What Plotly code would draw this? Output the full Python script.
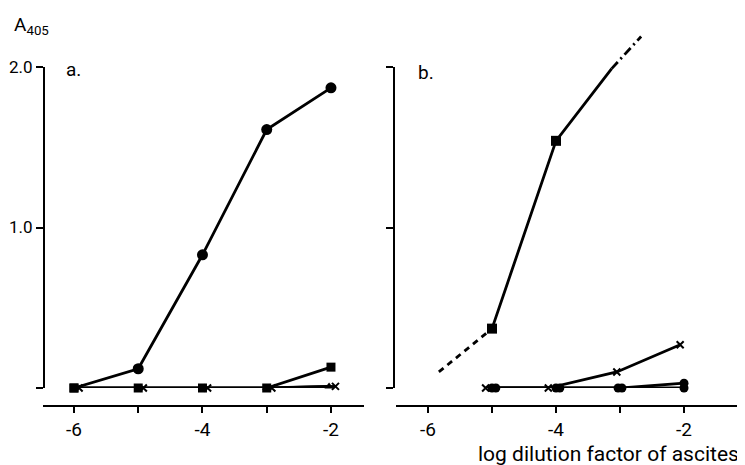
import plotly.graph_objects as go

W, H = 745, 465
OFF = 8  # page body margin in the browser
FW, FH = W - OFF, H - OFF
FONT = "Roboto, DejaVu Sans, sans-serif"

# ---- data (log dilution factor, A405) ----
# Panel a
a_x = [-6, -5, -4, -3, -2]
a_circle_y = [0.0, 0.12, 0.83, 1.61, 1.87]
a_circle_sym = ["square", "circle", "circle", "circle", "circle"]
a_square_y = [0.0, 0.0, 0.0, 0.0, 0.13]
a_tri_x = [-3, -2.03]
a_tri_y = [0.0, 0.01]
a_cross_x = [-5.92, -4.92, -3.92, -2.92, -1.93]
a_cross_y = [0.0, 0.0, 0.0, 0.0, 0.01]

# Panel b
b_square_x = [-5, -4, -3.13]
b_square_y = [0.37, 1.54, 1.99]
b_square_sym = ["square", "square", "circle"]
b_dash_x = [-5.83, -5]
b_dash_y = [0.10, 0.37]
b_dashdot_x = [-3.13, -2.67]
b_dashdot_y = [1.99, 2.19]
b_cross_x = [-5.1, -4.12, -3.05, -2.06]
b_cross_y = [0.0, 0.0, 0.10, 0.27]
b_circle_x = [-5.0, -4.0, -2.97, -2.0]
b_circle_y = [0.0, 0.0, 0.0, 0.03]
b_circle2_x = [-4.94, -3.94, -3.03, -2.0]
b_circle2_y = [0.0, 0.0, 0.0, 0.0]

x_ticks = [-6, -5, -4, -3, -2]
x_ticktext = ["-6", "", "-4", "", "-2"]
y_ticks = [0, 1, 2]
y_ticktext_a = ["", "1.0", "2.0"]
y_ticktext_b = ["", "", ""]

LW = 2.8
K = "black"

fig = go.Figure()

def line(x, y, xa, ya, dash="solid", mode="lines", marker=None):
    m = dict(color=K, opacity=1, line=dict(width=0))
    if marker:
        m.update(marker)
    fig.add_trace(go.Scatter(x=x, y=y, xaxis=xa, yaxis=ya, mode=mode,
                             line=dict(color=K, width=LW, dash=dash),
                             marker=m, cliponaxis=False,
                             showlegend=False, hoverinfo="skip"))

# panel a
line(a_cross_x, a_cross_y, "x", "y", mode="lines+markers",
     marker=dict(symbol="x-thin", size=7, line=dict(color=K, width=2)))
line(a_tri_x, a_tri_y, "x", "y", mode="lines+markers",
     marker=dict(symbol="triangle-up", size=8))
line(a_x, a_square_y, "x", "y", mode="lines+markers",
     marker=dict(symbol="square", size=9))
line(a_x, a_circle_y, "x", "y", mode="lines+markers",
     marker=dict(symbol=a_circle_sym, size=[9, 11, 11, 11, 11]))

# panel b
line(b_cross_x, b_cross_y, "x2", "y2", mode="lines+markers",
     marker=dict(symbol="x-thin", size=7, line=dict(color=K, width=2)))
line(b_circle2_x, b_circle2_y, "x2", "y2", mode="lines+markers",
     marker=dict(symbol="circle", size=9))
line(b_circle_x, b_circle_y, "x2", "y2", mode="lines+markers",
     marker=dict(symbol="circle", size=9))
line(b_dash_x, b_dash_y, "x2", "y2", dash="6px,5px")
line(b_square_x, b_square_y, "x2", "y2", mode="lines+markers",
     marker=dict(symbol=b_square_sym, size=[10, 10, 0]))
line(b_dashdot_x, b_dashdot_y, "x2", "y3", dash="9px,4px,2px,4px")

def px(x):
    return (x - OFF) / FW

def py(y):
    return 1 - (y - OFF) / FH

axis_common = dict(showgrid=False, zeroline=False, showline=True, linecolor=K,
                   linewidth=2, ticks="outside", tickcolor=K, tickwidth=2,
                   automargin=False, fixedrange=True)
xfont = dict(family=FONT, size=19, color=K)
yfont = dict(family=FONT, size=17, color=K)

fig.update_layout(
    template="none",
    width=FW, height=FH, margin=dict(l=0, r=0, t=0, b=0, pad=0),
    paper_bgcolor="white", plot_bgcolor="rgba(0,0,0,0)",
    xaxis=dict(domain=[px(43), px(364)], range=[-6.482, -1.486], anchor="free",
               position=py(406), tickvals=x_ticks, ticktext=x_ticktext, ticklen=6,
               tickfont=xfont, **axis_common),
    yaxis=dict(domain=[py(388), py(67)], range=[0, 2], anchor="free",
               position=px(44), tickvals=y_ticks, ticktext=y_ticktext_a, ticklen=7,
               tickfont=yfont, **axis_common),
    xaxis2=dict(domain=[px(396), px(745)], range=[-6.5, -1.047], anchor="free",
                position=py(406), tickvals=x_ticks, ticktext=x_ticktext, ticklen=6,
                tickfont=xfont, **axis_common),
    yaxis2=dict(domain=[py(388), py(67)], range=[0, 2], anchor="free",
                position=px(394), tickvals=y_ticks, ticktext=y_ticktext_b, ticklen=7,
                tickfont=yfont, **axis_common),
    yaxis3=dict(domain=[py(388), py(28)], range=[0, (388 - 28) / 160.5],
                anchor="x2", visible=False, fixedrange=True, automargin=False),
)

ann_font = dict(family=FONT, size=19, color=K)
fig.add_annotation(x=px(12), y=py(26), xref="paper", yref="paper", xanchor="left",
                   yanchor="middle", text="A<sub>405</sub>", showarrow=False, font=ann_font)
fig.add_annotation(x=px(64), y=py(70), xref="paper", yref="paper", xanchor="left",
                   yanchor="middle", text="a.", showarrow=False, font=ann_font)
fig.add_annotation(x=px(416), y=py(73), xref="paper", yref="paper", xanchor="left",
                   yanchor="middle", text="b.", showarrow=False, font=ann_font)
fig.add_annotation(x=px(741), y=py(454), xref="paper", yref="paper", xanchor="right",
                   yanchor="middle", text="log dilution factor of ascites",
                   showarrow=False, font=dict(family=FONT, size=21, color=K))

fig.write_html("out.html")
